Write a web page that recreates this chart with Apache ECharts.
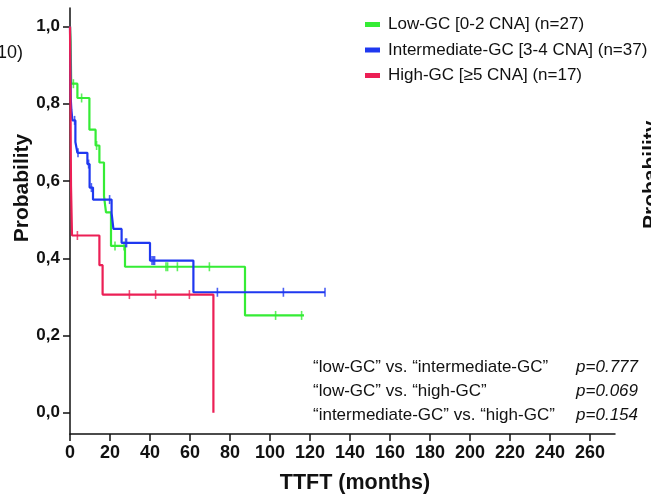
<!DOCTYPE html>
<html>
<head>
<meta charset="utf-8">
<title>TTFT by genomic complexity</title>
<script src="https://cdn.jsdelivr.net/npm/echarts@6.0.0/dist/echarts.min.js"></script>
<style>
  html, body { margin: 0; padding: 0; background: #fff; }
  #chart { width: 651px; height: 494px; }
</style>
</head>
<body>
<div id="chart"></div>
<script>
// Kaplan-Meier steps: event times (months) and survival after each drop
const lowTimes = [0, 0.3, 0.6, 3.7, 9.7, 12.8, 14.7, 17, 18, 20.5, 27.5, 87.5, 117];
const lowSurv = [1, 0.963, 0.852, 0.815, 0.733, 0.692, 0.648, 0.561, 0.519, 0.432, 0.378, 0.252, 0.252];
const lowCensor = [1.7, 5.8, 13.3, 22.5, 27, 48, 48.8, 53.7, 69.7, 102.8, 115.8];

const midTimes = [0, 0.4, 0.7, 1.2, 2.7, 3.7, 8.7, 9.8, 11.5, 20.8, 21.7, 25.8, 40, 61.7, 127.5];
const midSurv = [1, 0.811, 0.784, 0.757, 0.701, 0.673, 0.644, 0.583, 0.552, 0.517, 0.476, 0.44, 0.394, 0.312, 0.312];
const midCensor = [2.3, 4.0, 9.3, 10.7, 19.8, 27.8, 28.3, 41, 41.7, 42.3, 73.7, 106.7, 127.5];

const highTimes = [0, 0.5, 1.0, 14.7, 16.3, 71.7];
const highSurv = [1, 0.588, 0.459, 0.382, 0.306, 0];
const highCensor = [3.7, 29.7, 42.8, 59.7];

const groupNames = [
  "Low-GC [0-2 CNA] (n=27)",
  "Intermediate-GC [3-4 CNA] (n=37)",
  "High-GC [≥5 CNA] (n=17)",
];
const groupColors = ["#35ec35", "#1f38f0", "#ec1f55"];

const xTicks = [0, 20, 40, 60, 80, 100, 120, 140, 160, 180, 200, 220, 240, 260];
const yTicks = [0, 0.2, 0.4, 0.6, 0.8, 1.0];

// log-rank comparisons
const compLabels = [
  "\u201Clow-GC\u201D vs. \u201Cintermediate-GC\u201D",
  "\u201Clow-GC\u201D vs. \u201Chigh-GC\u201D",
  "\u201Cintermediate-GC\u201D vs. \u201Chigh-GC\u201D",
];
const compPValues = ["p=0.777", "p=0.069", "p=0.154"];

const font = "'Liberation Sans', Arial, sans-serif";

// survival value at time t (for placing censor ticks)
function stepValue(times, surv, t) {
  let v = surv[0];
  for (let i = 0; i < times.length; i++) {
    if (times[i] <= t) v = surv[i];
  }
  return v;
}

const groups = [
  { times: lowTimes, surv: lowSurv, censor: lowCensor },
  { times: midTimes, surv: midSurv, censor: midCensor },
  { times: highTimes, surv: highSurv, censor: highCensor },
];

let series = [];
groups.forEach((g, i) => {
  series.push({
    type: "line",
    name: groupNames[i],
    step: "end",
    showSymbol: false,
    data: g.times.map((t, k) => [t, g.surv[k]]),
    lineStyle: { color: groupColors[i], width: 2.2 },
    itemStyle: { color: groupColors[i] },
    z: 2 + i,
  });
  series.push({
    type: "scatter",
    name: groupNames[i],
    symbol: "rect",
    symbolSize: [1.6, 9],
    data: g.censor.map((t) => [t, stepValue(g.times, g.surv, t)]),
    itemStyle: { color: groupColors[i] },
    z: 2 + i,
  });
});

let graphic = [];
compLabels.forEach((txt, i) => {
  graphic.push({
    type: "text",
    left: 313,
    top: 359 + i * 24,
    style: { text: txt, font: "17px " + font, fill: "#111" },
  });
  graphic.push({
    type: "text",
    right: 13,
    top: 359 + i * 24,
    style: { text: compPValues[i], font: "italic 17px " + font, fill: "#111" },
  });
});
// fragments of neighbouring panels
graphic.push({
  type: "text",
  x: 23,
  y: 53,
  style: { text: "10)", font: "18px " + font, fill: "#111", align: "right", verticalAlign: "middle" },
});
graphic.push({
  type: "text",
  x: 641,
  y: 229,
  rotation: Math.PI / 2,
  style: { text: "Probability", font: "bold 21px " + font, fill: "#111", align: "left", verticalAlign: "top" },
});

let chart;

function initChart() {
  chart = echarts.init(document.getElementById("chart"));
  chart.setOption({
    animation: false,
    grid: { left: 70, right: 36, top: 8, bottom: 60, containLabel: false, outerBoundsMode: "none" },
    legend: {
      orient: "vertical",
      left: 365,
      top: 16,
      padding: 0,
      icon: "rect",
      itemWidth: 15,
      itemHeight: 5,
      itemGap: 8.5,
      selectedMode: false,
      data: groupNames,
      textStyle: { fontSize: 17, color: "#111", fontFamily: font, padding: [0, 0, 0, 3] },
    },
    xAxis: {
      type: "value",
      min: 0,
      max: 272.5,
      name: "TTFT (months)",
      nameLocation: "middle",
      nameGap: 38,
      nameMoveOverlap: false,
      nameTextStyle: { fontSize: 21.5, fontWeight: "bold", color: "#111", fontFamily: font, padding: [0, 0, 0, 25] },
      axisLine: { onZero: false, lineStyle: { color: "#111", width: 1.5 } },
      axisTick: { customValues: xTicks, length: 7, lineStyle: { color: "#111", width: 1.5 } },
      axisLabel: { customValues: xTicks, margin: 10, fontSize: 18, fontWeight: "bold", color: "#111", fontFamily: font },
      splitLine: { show: false },
    },
    yAxis: {
      type: "value",
      min: -0.055,
      max: 1.048,
      name: "Probability",
      nameLocation: "middle",
      nameRotate: 90,
      nameGap: 37,
      nameMoveOverlap: false,
      nameTextStyle: { fontSize: 21, fontWeight: "bold", color: "#111", fontFamily: font, padding: [0, 0, 0, 66] },
      axisLine: { show: true, onZero: false, lineStyle: { color: "#111", width: 1.5 } },
      axisTick: { show: true, customValues: yTicks, length: 7, lineStyle: { color: "#111", width: 1.5 } },
      axisLabel: {
        customValues: yTicks,
        margin: 10,
        fontSize: 17,
        fontWeight: "bold",
        color: "#111",
        fontFamily: font,
        formatter: (v) => v.toFixed(1).replace(".", ","),
      },
      splitLine: { show: false },
    },
    graphic: graphic,
    series: series,
  });
}

window.onload = function () {
  initChart();
};
</script>
</body>
</html>
